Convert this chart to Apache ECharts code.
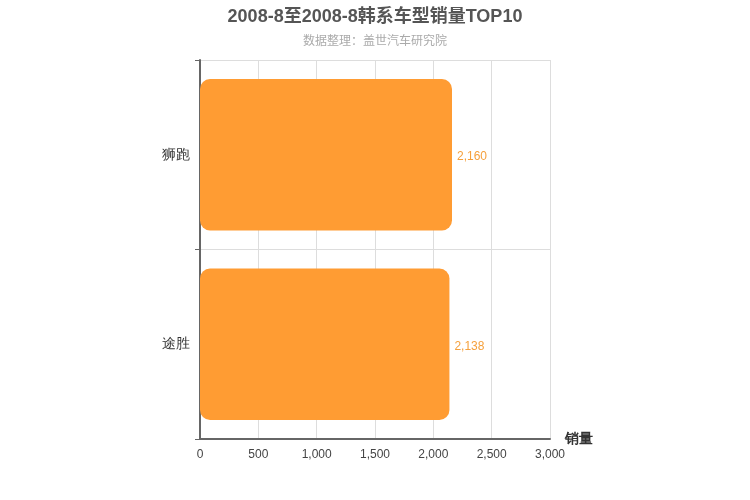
<!DOCTYPE html>
<html><head><meta charset="utf-8">
<script src="https://cdn.jsdelivr.net/npm/echarts@6/dist/echarts.min.js"></script>
<style>html,body{margin:0;padding:0;background:#fff}#c{width:750px;height:500px}</style>
</head><body><div id="c"></div>
<script>
var categories = ['途胜', '狮跑'];
var sales = [2138, 2160];
var xTicks = [0, 500, 1000, 1500, 2000, 2500, 3000];

var chart = echarts.init(document.getElementById('c'));
chart.setOption({
  animation: false,
  title: {
    text: '2008-8至2008-8韩系车型销量TOP10',
    subtext: '数据整理：盖世汽车研究院',
    left: 'center', top: 3, itemGap: 10,
    textStyle: {fontSize: 18, fontWeight: 'bold', color: '#555', fontFamily: 'Liberation Sans, Noto Sans CJK SC, sans-serif'},
    subtextStyle: {fontSize: 12, color: '#aaa', fontFamily: 'Liberation Sans, Noto Sans CJK SC, sans-serif'}
  },
  grid: {left: 200, right: 200, top: 60, bottom: 61, containLabel: false},
  xAxis: {
    type: 'value', min: xTicks[0], max: xTicks[xTicks.length - 1], interval: 500,
    name: '销量', nameLocation: 'end', nameGap: 15,
    nameTextStyle: {fontSize: 14, fontWeight: 'bold', color: '#333', verticalAlign: 'middle', padding: [0, 0, 0, 0]},
    axisLine: {show: true, lineStyle: {color: '#666', width: 2}},
    axisTick: {show: false},
    axisLabel: {color: '#444', fontSize: 12, margin: 10, fontFamily: 'Liberation Sans, sans-serif'},
    splitLine: {show: true, lineStyle: {color: '#ddd'}}
  },
  yAxis: {
    type: 'category', data: categories,
    axisLine: {show: true, lineStyle: {color: '#666', width: 2}},
    axisTick: {show: true, length: 5, lineStyle: {color: '#666'}},
    axisLabel: {color: '#333', fontSize: 14, margin: 10, padding: [4, 0, 0, 0]},
    splitLine: {show: true, lineStyle: {color: '#ddd'}}
  },
  series: [{
    type: 'bar', data: sales, barWidth: '80%',
    itemStyle: {color: '#ff9c33', borderRadius: 10},
    label: {show: true, position: 'right', color: '#f5a03c', fontSize: 12, offset: [0, 2],
      fontFamily: 'Liberation Sans, sans-serif',
      formatter: function(p){ return p.value.toLocaleString('en-US'); }}
  }]
});
</script></body></html>
